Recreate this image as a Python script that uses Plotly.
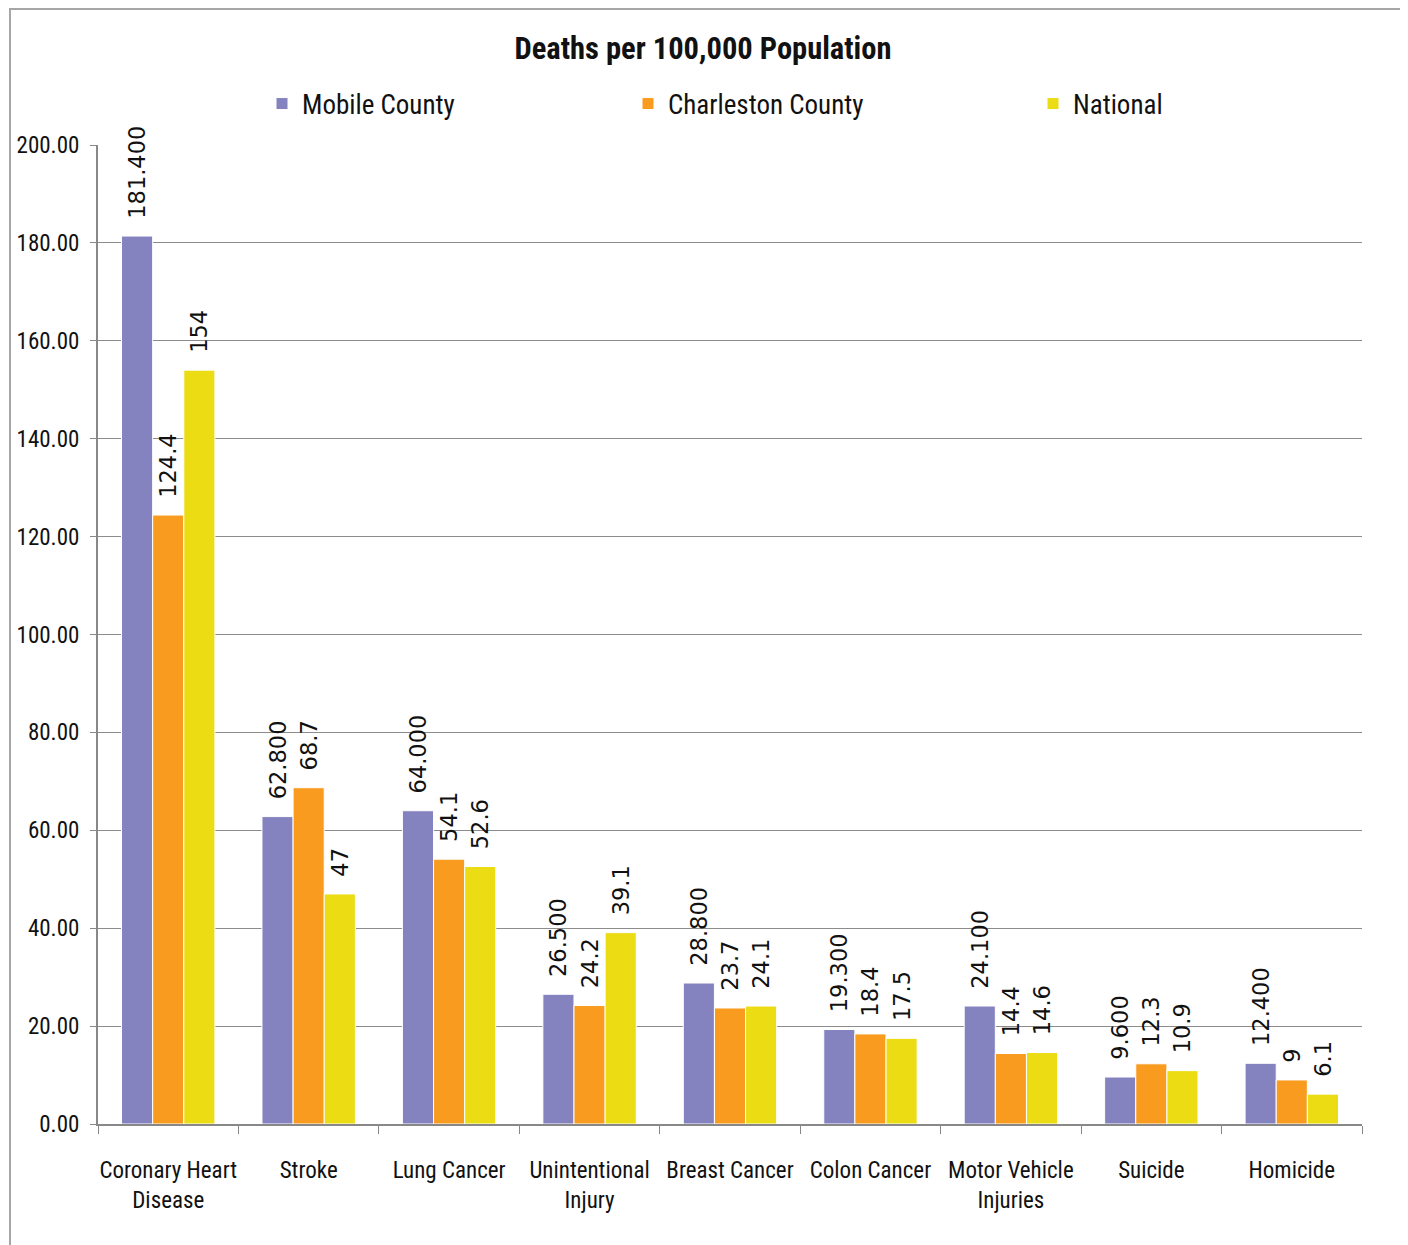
import plotly.graph_objects as go

categories = ["Coronary Heart<br>Disease", "Stroke", "Lung Cancer", "Unintentional<br>Injury",
              "Breast Cancer", "Colon Cancer", "Motor Vehicle<br>Injuries", "Suicide", "Homicide"]
mobile = [181.4, 62.8, 64.0, 26.5, 28.8, 19.3, 24.1, 9.6, 12.4]
charleston = [124.4, 68.7, 54.1, 24.2, 23.7, 18.4, 14.4, 12.3, 9]
national = [154, 47, 52.6, 39.1, 24.1, 17.5, 14.6, 10.9, 6.1]
series_names = ["Mobile County", "Charleston County", "National"]
colors = ["#8483C0", "#F89B1E", "#EBDC14"]
yticks = [0, 20, 40, 60, 80, 100, 120, 140, 160, 180, 200]

NARROW = "Liberation Sans Narrow, Arial Narrow, Roboto Condensed, sans-serif"
PAD = "\u00a0\u00a0"

def fmt_mobile(v):
    return PAD + f"{v:.3f}"

def fmt_plain(v):
    return PAD + f"{v:g}"

fig = go.Figure()
data = [mobile, charleston, national]
fmts = [fmt_mobile, fmt_plain, fmt_plain]
legends = ["legend", "legend2", "legend3"]
for name, vals, col, f, lg in zip(series_names, data, colors, fmts, legends):
    fig.add_trace(go.Bar(
        x=categories, y=vals, name=name,
        marker=dict(color=col, line=dict(color="white", width=1)),
        text=[f(v) for v in vals], textposition="outside", textangle=-90,
        textfont=dict(family="DejaVu Sans", size=22.5, color="#111111"),
        constraintext="none", cliponaxis=False, legend=lg,
    ))

# page body has an 8px margin; figure is sized so the plot area lands at
# x 98..1362, y 145..1124 in the window
legend_common = dict(orientation="h", yanchor="middle", xanchor="left",
                     font=dict(family=NARROW, size=27, color="#111111"),
                     bgcolor="rgba(0,0,0,0)", itemwidth=30)
ly = (1124 - 104) / 979
fig.update_layout(
    width=1400, height=1237,
    margin=dict(l=90, r=46, t=137, b=121, autoexpand=False),
    paper_bgcolor="white", plot_bgcolor="white",
    barmode="group", bargap=0.335, bargroupgap=0,
    title=dict(text="<b>Deaths per 100,000 Population</b>", x=(703 - 8) / 1400, xanchor="center",
               y=1 - (48 - 8) / 1237, yanchor="middle",
               font=dict(family=NARROW, size=30.5, color="#111111")),
    legend=dict(**legend_common, x=(262 - 98) / 1264, y=ly),
    legend2=dict(**legend_common, x=(628 - 98) / 1264, y=ly),
    legend3=dict(**legend_common, x=(1033 - 98) / 1264, y=ly),
    xaxis=dict(showline=True, linecolor="#888888", linewidth=2,
               ticks="outside", tickson="boundaries", ticklen=8, tickcolor="#888888",
               tickangle=0, automargin=False, ticklabelstandoff=24,
               tickfont=dict(family=NARROW, size=23, color="#111111"),
               showgrid=False),
    yaxis=dict(range=[0, 200], tickvals=yticks, ticktext=[f"{v:.2f}" for v in yticks],
               showline=True, linecolor="#888888", linewidth=2,
               ticks="outside", ticklen=6, tickcolor="#888888", automargin=False,
               ticklabelstandoff=6,
               gridcolor="#8c8c8c", gridwidth=1,
               tickfont=dict(family=NARROW, size=23, color="#111111"),
               zeroline=False),
    showlegend=True,
)

fig.add_shape(type="rect", xref="paper", yref="paper",
              x0=(10 - 98) / 1264, x1=(1401 - 98) / 1264,
              y0=(1124 - 1260) / 979, y1=(1124 - 9) / 979,
              line=dict(color="#a6a6a6", width=2), layer="below")

fig.write_html("out.html")
